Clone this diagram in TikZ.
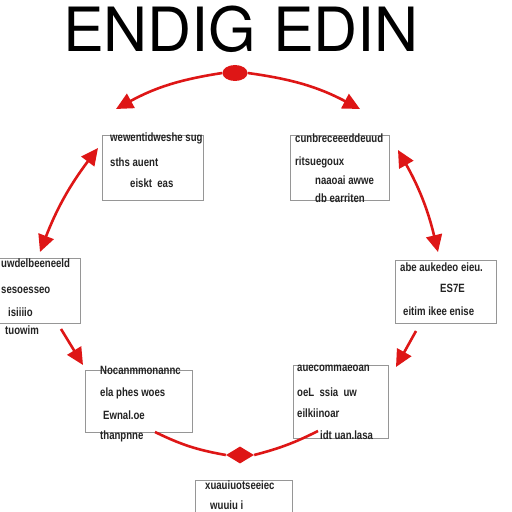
\documentclass[tikz,border=0pt]{standalone}
\usepackage{fontspec}
\setmainfont{TeX Gyre Heros}
\newfontfamily\boxfont[FakeStretch=0.8]{Liberation Sans}
\usetikzlibrary{arrows.meta,shapes.geometric}
\definecolor{cycred}{RGB}{222,22,22}
\definecolor{boxgray}{RGB}{150,150,150}
\definecolor{inkgray}{RGB}{35,35,35}

\begin{document}
\begin{tikzpicture}[x=1pt,y=1pt,
    box/.style={draw=boxgray,line width=0.9pt,rectangle,inner sep=0pt},
    txt/.style={anchor=west,inner sep=0pt,text=inkgray,
        font=\boxfont\bfseries\fontsize{12}{12}\selectfont},
    cyc/.style={draw=cycred,line width=2.6pt,-{Triangle[length=17pt,width=16pt]}},
    cycboth/.style={draw=cycred,line width=2.6pt,
        {Triangle[length=17pt,width=16pt]}-{Triangle[length=17pt,width=16pt]}},
    cycline/.style={draw=cycred,line width=2.6pt}]
    \useasboundingbox (0,0) rectangle (512,512);
    \fill[white] (0,0) rectangle (512,512);

    % title
    \node (title) at (241,483) {\fontsize{61}{61}\selectfont ENDIG EDIN};

    % boxes
    \node[box,minimum width=101pt,minimum height=65pt] (tl) at (152.5,344.5) {};
    \node[box,minimum width=99pt,minimum height=65pt] (tr) at (339.5,344.5) {};
    \node[box,minimum width=84pt,minimum height=65pt] (lt) at (38,221.5) {};
    \node[box,minimum width=101pt,minimum height=63pt] (rt) at (445.5,220.5) {};
    \node[box,minimum width=107pt,minimum height=62pt] (bl) at (138.5,111) {};
    \node[box,minimum width=95pt,minimum height=73pt] (br) at (340.5,110.5) {};
    \node[box,minimum width=97pt,minimum height=44pt] (bt) at (243.5,10) {};

    % box texts
    \node[txt] (tl1) at (110,374) {wewentidweshe sug};
    \node[txt] (tl2) at (110,350) {sths auent};
    \node[txt] (tl3) at (130,329) {eiskt\ \ eas};
    \node[txt] (tr1) at (295,374) {cunbreceeeddeuud};
    \node[txt] (tr2) at (295,350) {ritsuegoux};
    \node[txt] (tr3) at (315,332) {naaoai awwe};
    \node[txt] (tr4) at (315,314) {db earriten};
    \node[txt] (lt1) at (1,249) {uwdelbeeneeld};
    \node[txt] (lt2) at (1,222) {sesoesseo};
    \node[txt] (lt3) at (8,200) {isiiiio};
    \node[txt] (lt4) at (5,182) {tuowim};
    \node[txt] (rt1) at (400,245) {abe aukedeo eieu.};
    \node[txt] (rt2) at (440,224) {ES7E};
    \node[txt] (rt3) at (403,201) {eitim ikee enise};
    \node[txt] (bl1) at (100,142) {Nocanmmonannc};
    \node[txt] (bl2) at (100,119) {ela phes woes};
    \node[txt] (bl3) at (103,97) {Ewnal.oe};
    \node[txt] (bl4) at (100,76) {thanpnne};
    \node[txt] (br1) at (297,144) {auecommaeoan};
    \node[txt] (br2) at (297,120) {oeL\ \ ssia\ \ uw};
    \node[txt] (br3) at (297,99) {eilkiinoar};
    \node[txt] (br4) at (320,77) {idt uan.lasa};
    \node[txt] (bt1) at (205,27) {xuauiuotseeiec};
    \node[txt] (bt2) at (210,7) {wuuiu i};

    % red cycle
    \node[ellipse,fill=cycred,minimum width=25pt,minimum height=16pt,inner sep=0pt] (topdot) at (235,439) {};
    \node[diamond,fill=cycred,minimum width=28pt,minimum height=17pt,inner sep=0pt] (botdot) at (240,57) {};
    \coordinate (tlend) at (116,403);
    \coordinate (trend) at (360,403);
    \coordinate (ltop) at (98,364);
    \coordinate (lbot) at (40,260);
    \coordinate (rtop) at (398,362);
    \coordinate (rbot) at (438,260);
    \coordinate (llstart) at (61,183);
    \coordinate (llend) at (83,147);
    \coordinate (lrstart) at (416,181);
    \coordinate (lrend) at (396,145);
    \coordinate (bstart) at (155,80);
    \coordinate (bend) at (318,81);

    \draw[cyc] (topdot.west) to[bend right=10] (tlend);
    \draw[cyc] (topdot.east) to[bend left=10] (trend);
    \draw[cycboth] (ltop) to[bend right=8] (lbot);
    \draw[cycboth] (rtop) to[bend left=8] (rbot);
    \draw[cyc] (llstart) -- (llend);
    \draw[cyc] (lrstart) -- (lrend);
    \draw[cycline] (bstart) to[bend right=8] (botdot.west);
    \draw[cycline] (botdot.east) to[bend right=6] (bend);
\end{tikzpicture}
\end{document}
